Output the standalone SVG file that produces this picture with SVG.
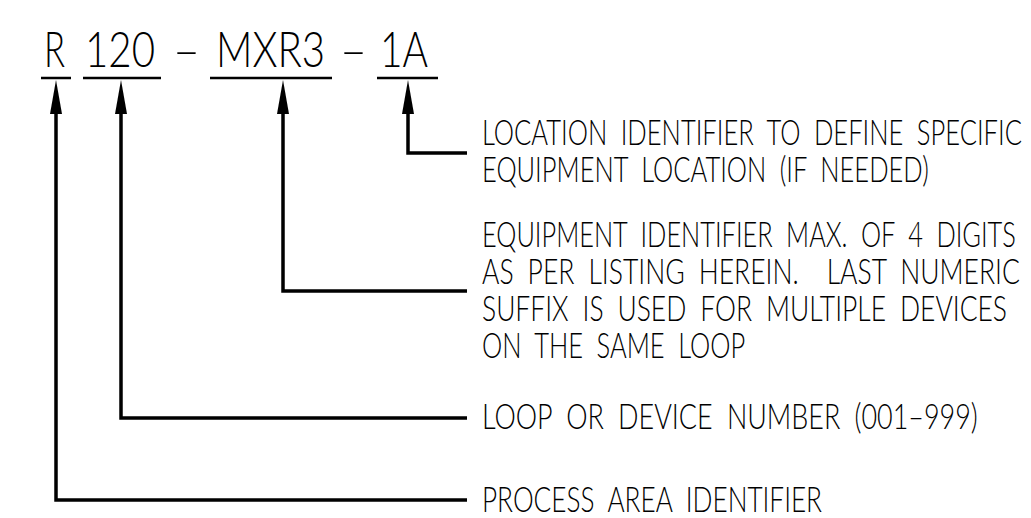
<svg xmlns="http://www.w3.org/2000/svg" width="1031" height="518" viewBox="0 0 1031 518" xml:space="preserve">
<style>
.t{font-family:Lato,Roboto,"Open Sans","DejaVu Sans Condensed",sans-serif;font-weight:300;fill:#000;white-space:pre}
.big{font-size:50px}
.lbl{font-size:35px;word-spacing:9px}
.ul{stroke:#000;stroke-width:2.5;fill:none}
.conn{stroke:#000;stroke-width:3.5;fill:none;stroke-linejoin:miter;marker-end:url(#arr)}
</style>
<defs>
<marker id="arr" markerUnits="userSpaceOnUse" markerWidth="40" markerHeight="16" viewBox="0 -8 40 16" refX="0" refY="0" orient="auto">
<path d="M0,-6 L34,0 L0,6 z" fill="#000"/>
</marker>
</defs>
<rect width="1031" height="518" fill="#fff"/>
<g id="title">
<text class="t big" transform="translate(44,67) scale(0.72,1)" textLength="29.2" lengthAdjust="spacingAndGlyphs">R</text>
<text class="t big" transform="translate(85,67) scale(0.72,1)" textLength="97.2" lengthAdjust="spacingAndGlyphs">120</text>
<text class="t big" transform="translate(173,67) scale(0.72,1)" textLength="37.5" lengthAdjust="spacingAndGlyphs">–</text>
<text class="t big" transform="translate(216,67) scale(0.72,1)" textLength="151.4" lengthAdjust="spacingAndGlyphs">MXR3</text>
<text class="t big" transform="translate(340,67) scale(0.72,1)" textLength="37.5" lengthAdjust="spacingAndGlyphs">–</text>
<text class="t big" transform="translate(380,67) scale(0.72,1)" textLength="66.7" lengthAdjust="spacingAndGlyphs">1A</text>
<path class="ul" d="M41,78 H71 M83,78 H161 M210,78 H332 M377,78 H438"/>
</g>
<g id="connectors">
<path class="conn" d="M467,153 H408 V114"/>
<path class="conn" d="M467,291 H283 V114"/>
<path class="conn" d="M467,418 H121 V114"/>
<path class="conn" d="M467,500 H56 V114"/>
</g>
<g id="location">
<text class="t lbl" transform="translate(482,145) scale(0.68,1)" textLength="794" lengthAdjust="spacingAndGlyphs">LOCATION IDENTIFIER TO DEFINE SPECIFIC</text>
<text class="t lbl" transform="translate(482,182) scale(0.68,1)" textLength="657" lengthAdjust="spacingAndGlyphs">EQUIPMENT LOCATION (IF NEEDED)</text>
</g>
<g id="equipment">
<text class="t lbl" transform="translate(482,247) scale(0.68,1)" textLength="785" lengthAdjust="spacingAndGlyphs">EQUIPMENT IDENTIFIER MAX. OF 4 DIGITS</text>
<text class="t lbl" transform="translate(482,284) scale(0.68,1)" textLength="791" lengthAdjust="spacingAndGlyphs">AS PER LISTING HEREIN.  LAST NUMERIC</text>
<text class="t lbl" transform="translate(482,321) scale(0.68,1)" textLength="772" lengthAdjust="spacingAndGlyphs">SUFFIX IS USED FOR MULTIPLE DEVICES</text>
<text class="t lbl" transform="translate(482,358) scale(0.68,1)" textLength="387" lengthAdjust="spacingAndGlyphs">ON THE SAME LOOP</text>
</g>
<g id="loop">
<text class="t lbl" transform="translate(482,429) scale(0.68,1)" textLength="729" lengthAdjust="spacingAndGlyphs">LOOP OR DEVICE NUMBER (001–999)</text>
</g>
<g id="process">
<text class="t lbl" transform="translate(482,512) scale(0.68,1)" textLength="500" lengthAdjust="spacingAndGlyphs">PROCESS AREA IDENTIFIER</text>
</g>
</svg>
